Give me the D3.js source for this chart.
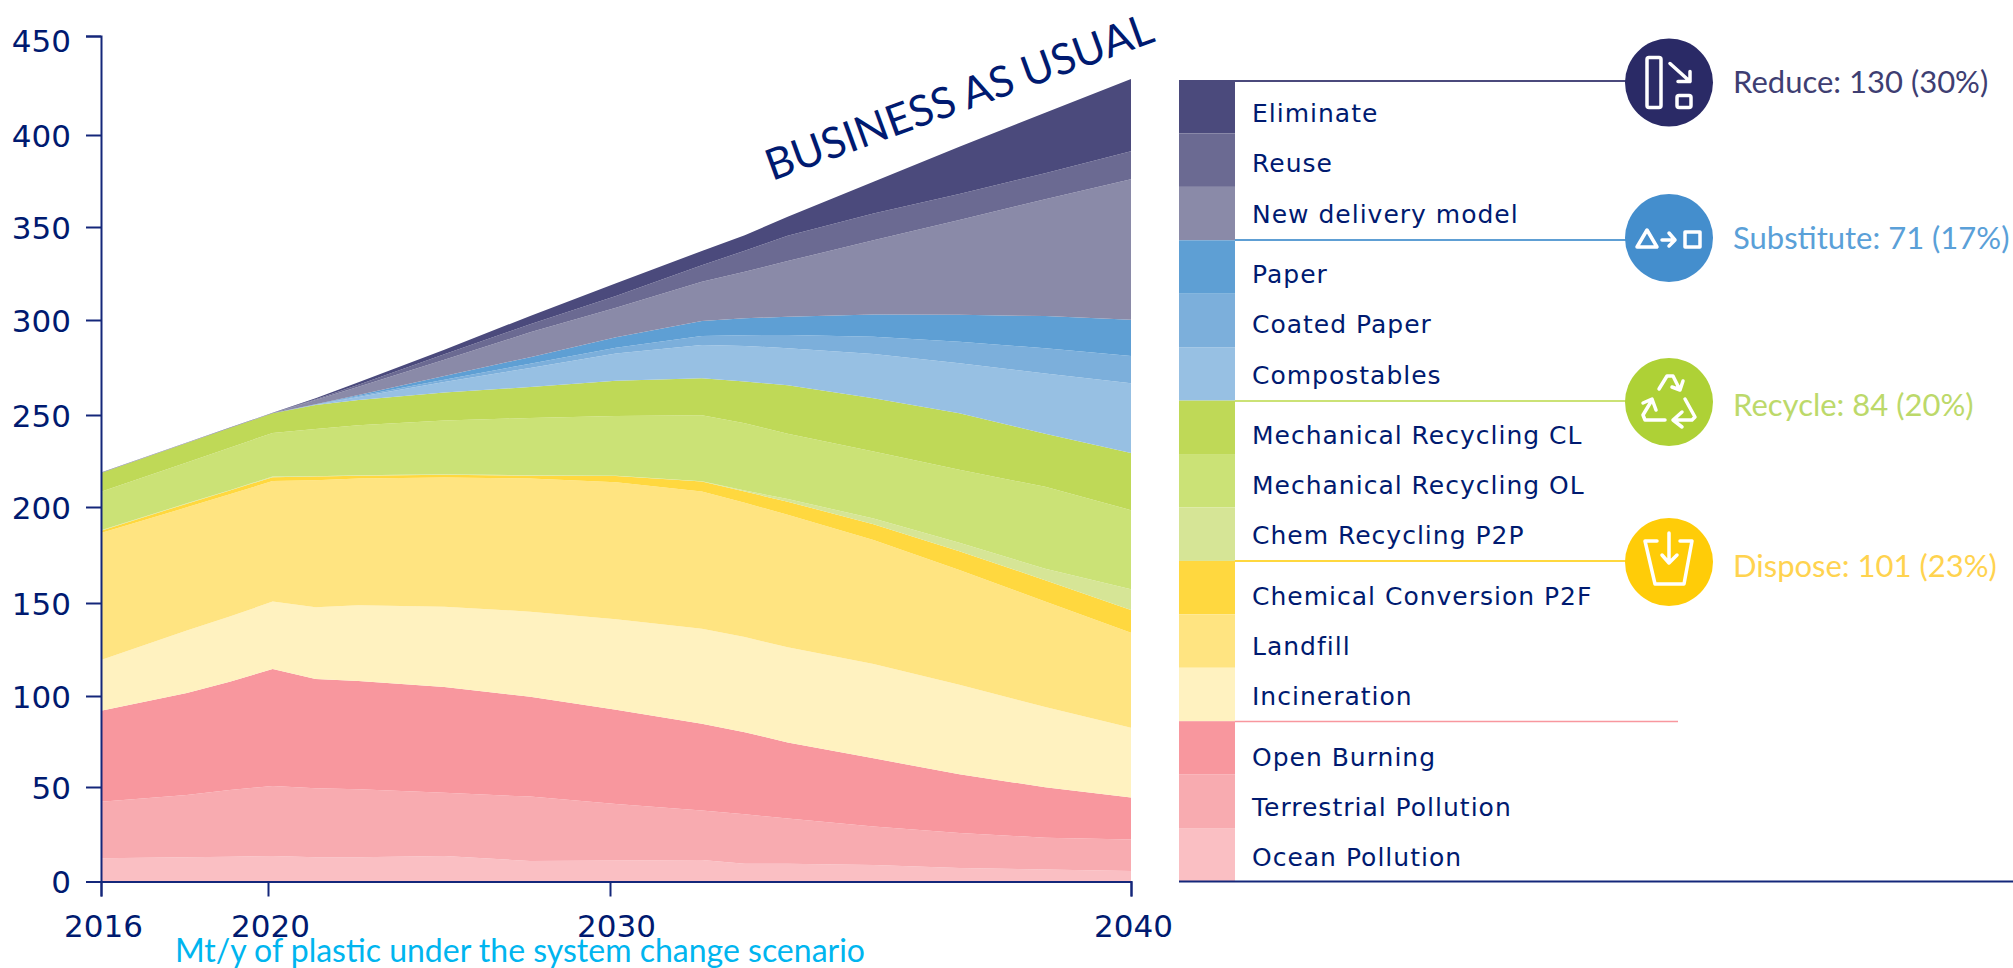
<!DOCTYPE html>
<html>
<head>
<meta charset="utf-8">
<script src="https://cdn.jsdelivr.net/npm/d3@7"></script>
<style>
  html, body { margin: 0; padding: 0; background: #fff; overflow: hidden; }
  .tick text { font-family: "DejaVu Sans", sans-serif; font-size: 31px; fill: #001a70; }
  .legend-label { font-family: "DejaVu Sans", sans-serif; font-size: 25px; letter-spacing: 1px; fill: #001a70; }
  .group-label { font-family: "Lato", sans-serif; font-size: 31px; }
  .icon { fill: none; stroke: #fff; stroke-width: 3.5; stroke-linejoin: round; stroke-linecap: round; }
</style>
</head>
<body>
<script>
var years = [2016, 2018, 2019, 2020, 2021, 2022, 2024, 2026, 2028, 2030, 2031, 2032, 2034, 2036, 2038, 2040];

// Mt/y per layer, bottom of the stack first
var oceanPollution = [12.5, 13, 13.3, 13.6, 13, 13, 13.6, 11, 11.3, 11.5, 9.5, 9.5, 8.8, 7.2, 6.4, 5.6];
var terrestrialPollution = [30.3, 33.4, 35.7, 37.6, 37, 36.5, 33.9, 34.5, 30.2, 26.5, 26.5, 24.3, 20.7, 18.8, 17.1, 16.9];
var openBurning = [48.7, 54.6, 58, 62.7, 58.5, 57.9, 56.8, 53.5, 50.5, 46.5, 44, 40.7, 36.5, 31.5, 27, 22.5];
var incineration = [27.2, 33.5, 35, 36.1, 38.5, 40.6, 43, 45.6, 48.5, 51, 51, 51, 50.5, 48, 43, 37.4];
var landfill = [68, 66, 65.5, 64.6, 68, 68, 69.2, 71.4, 73.5, 73.5, 72, 71, 66.5, 61.5, 56.5, 50.9];
var chemicalConversion = [1.3, 2, 2, 2.1, 2, 1.5, 1.5, 1.5, 3.3, 5.3, 6, 7, 8.5, 10, 11.5, 12.2];
var chemRecycling = [0.2, 0.2, 0.2, 0.3, 0.2, 0.2, 0.2, 0.2, 0.2, 0.2, 0.5, 1.5, 3, 4.5, 6.1, 11.1];
var mechanicalOL = [20.7, 21.9, 22.8, 23.4, 25.3, 26.8, 28.8, 30.7, 31.9, 35.3, 36.1, 35, 35.9, 39.1, 43.9, 42.4];
var mechanicalCL = [10, 10.4, 10.5, 10.6, 12.9, 13.5, 15, 16.6, 19, 19.9, 22.3, 26, 28.6, 30.4, 28.5, 30.6];
var compostables = [0, 0, 0, 0, 0.1, 1.6, 5.7, 10.2, 14.6, 17.8, 19.1, 19.8, 23.7, 26.7, 32.3, 37.4];
var coatedPaper = [0, 0, 0, 0, 0.1, 0.6, 1.2, 2.3, 3, 4.8, 5.8, 7.1, 9.3, 11.6, 13.5, 14.6];
var paper = [0, 0, 0, 0, 0.2, 0.5, 2, 3.5, 5.6, 8.1, 9, 9.8, 11.9, 14.4, 17.2, 19.4];
var newDelivery = [0.1, 0.1, 0.1, 0, 2.2, 4.5, 8.7, 13.3, 15.9, 21, 25, 29.8, 39.7, 50.8, 62.6, 75.4];
var reuse = [0.1, 0.1, 0.1, 0.1, 0.5, 1, 2.9, 4.3, 6.3, 8.9, 11.2, 13.5, 14.4, 13.9, 14, 15];
var eliminate = [0.1, 0.1, 0.1, 0.1, 0.5, 1.3, 2.5, 4.5, 6.8, 7.6, 8.3, 10.3, 17, 25.4, 32.4, 38.6];

// legend order, top to bottom
var categories = ["Eliminate", "Reuse", "New delivery model", "Paper", "Coated Paper", "Compostables",
  "Mechanical Recycling CL", "Mechanical Recycling OL", "Chem Recycling P2P", "Chemical Conversion P2F",
  "Landfill", "Incineration", "Open Burning", "Terrestrial Pollution", "Ocean Pollution"];
var colors = ["#4b4a7c", "#6b6a92", "#8a8aa8", "#5e9fd4", "#7cafdb", "#97c0e3", "#bfd957", "#cbe276", "#d6e596",
  "#ffd83f", "#ffe481", "#fff2c0", "#f8979e", "#f8abb0", "#fabfc3"];
var seriesValues = [eliminate, reuse, newDelivery, paper, coatedPaper, compostables, mechanicalCL, mechanicalOL,
  chemRecycling, chemicalConversion, landfill, incineration, openBurning, terrestrialPollution, oceanPollution];
var categoryGroup = [0, 0, 0, 1, 1, 1, 2, 2, 2, 3, 3, 3, 4, 4, 4];

var yTicks = [0, 50, 100, 150, 200, 250, 300, 350, 400, 450];
var xTicks = [2016, 2020, 2030, 2040];

var groupLabels = ["Reduce: 130 (30%)", "Substitute: 71 (17%)", "Recycle: 84 (20%)", "Dispose: 101 (23%)"];
var groupColors = ["#2a2a66", "#448ecd", "#aed136", "#ffcc08"];
var groupTextColors = ["#3e3e72", "#5aa0d8", "#bcd96a", "#ffd34f"];
var groupLineColors = ["#4b4a7c", "#5e9fd4", "#cbe276", "#ffd83f"];

var svg = d3.select("body").append("svg")
    .attr("width", 2013)
    .attr("height", 968);

var x = d3.scaleLinear().domain([2016, 2040]).range([101, 1131]);
var y = d3.scaleLinear().domain([0, 450]).range([881.5, 41.8]);
// the ticks in the source are not evenly spaced, so the axes get their own scales
var xAxisScale = d3.scaleLinear().domain(xTicks).range([101, 268, 610, 1131]);
var yAxisScale = d3.scaleLinear().domain(yTicks).range([881.5, 787, 696, 603, 507, 415, 320, 227, 135, 36]);

// stack from the bottom up
var rows = years.map(function(year, i) {
  var row = {year: year};
  categories.forEach(function(c, j) { row[c] = seriesValues[j][i]; });
  return row;
});
var stack = d3.stack().keys(categories.slice().reverse());
var z = d3.scaleOrdinal().domain(categories).range(colors);

var area = d3.area()
    .x(function(d) { return x(d.data.year); })
    .y0(function(d) { return y(d[0]); })
    .y1(function(d) { return y(d[1]); });

svg.append("g").selectAll("path")
    .data(stack(rows))
    .enter().append("path")
    .attr("d", area)
    .attr("fill", function(d) { return z(d.key); });

// axes
var yAxis = svg.append("g")
    .attr("transform", "translate(101,0)")
    .call(d3.axisLeft(yAxisScale).tickValues(yTicks).tickSize(15).tickPadding(15));
yAxis.selectAll("text").attr("dy", function(d) { return d == 450 ? "0.5em" : "0.37em"; });

var xAxis = svg.append("g")
    .attr("transform", "translate(0,881.5)")
    .call(d3.axisBottom(xAxisScale).tickValues(xTicks).tickSize(15).tickPadding(18).tickFormat(d3.format("d")));
xAxis.selectAll("text").attr("dx", function(d) { return d == 2030 ? 6 : 2; });

svg.selectAll(".domain, .tick line").attr("stroke", "#14277a").attr("stroke-width", 2);

svg.append("text")
    .attr("transform", "translate(772,181) rotate(-20)")
    .style("font-family", "Lato, sans-serif")
    .style("font-size", "43px")
    .style("fill", "#001a70")
    .text("BUSINESS AS USUAL");

svg.append("text")
    .attr("x", 175)
    .attr("y", 962)
    .style("font-family", "Lato, sans-serif")
    .style("font-size", "32px")
    .style("fill", "#00b5ef")
    .text("Mt/y of plastic under the system change scenario");

// legend swatches
var legendY = d3.scaleBand().domain(categories).range([80, 881.5]);

svg.append("g").selectAll("rect")
    .data(categories)
    .enter().append("rect")
    .attr("x", 1179)
    .attr("y", function(d) { return legendY(d); })
    .attr("width", 56)
    .attr("height", legendY.bandwidth())
    .attr("fill", function(d) { return z(d); });

svg.append("g").selectAll("text")
    .data(categories)
    .enter().append("text")
    .attr("class", "legend-label")
    .attr("x", 1252)
    .attr("y", function(d, i) { return 122 + 50.3 * i + 10 * categoryGroup[i]; })
    .text(function(d) { return d; });

// group lines, circles and totals
var groupY = [81, 240, 401, 561];
var circleY = [82.5, 238, 402, 562];
var labelY = [93, 249, 416, 577];

groupY.forEach(function(gy, i) {
  svg.append("line")
      .attr("x1", 1235).attr("x2", 1630)
      .attr("y1", gy).attr("y2", gy)
      .attr("stroke", groupLineColors[i])
      .attr("stroke-width", 2);
  svg.append("circle")
      .attr("cx", 1669)
      .attr("cy", circleY[i])
      .attr("r", 44)
      .attr("fill", groupColors[i]);
  svg.append("text")
      .attr("class", "group-label")
      .attr("x", 1733)
      .attr("y", labelY[i])
      .style("fill", groupTextColors[i])
      .text(groupLabels[i]);
});

svg.append("line").attr("x1", 1235).attr("x2", 1678).attr("y1", 721.5).attr("y2", 721.5)
    .attr("stroke", "#f8979e").attr("stroke-width", 1.5);
svg.append("line").attr("x1", 1179).attr("x2", 2013).attr("y1", 881.5).attr("y2", 881.5)
    .attr("stroke", "#14277a").attr("stroke-width", 2);

// icons, drawn around each circle centre
function icon(i) {
  return svg.append("g").attr("class", "icon").attr("transform", "translate(1669," + circleY[i] + ")");
}
var reduceIcon = icon(0);
reduceIcon.append("rect").attr("x", -22).attr("y", -25).attr("width", 14).attr("height", 50).attr("rx", 2);
reduceIcon.append("path").attr("d", "M1,-19 L21,-1 M9,-1 L21,-1 L21,-11");
reduceIcon.append("rect").attr("x", 8).attr("y", 13).attr("width", 14).attr("height", 12).attr("rx", 2);

var substituteIcon = icon(1);
substituteIcon.append("path").attr("d", "M-32,9 L-22,-8 L-12,9 Z");
substituteIcon.append("path").attr("d", "M-7,2 L6,2 M0,-5 L6,2 L0,8");
substituteIcon.append("rect").attr("x", 16).attr("y", -6).attr("width", 15).attr("height", 15);

var recycleIcon = icon(2);
recycleIcon.append("path").attr("d", "M-10,-13 L-2,-26 L4,-26 L11,-12 M14,-21 L11,-12 L3,-15");
recycleIcon.append("path").attr("d", "M-17,-2 L-26,13 L-24,18 L-4,18 M-26,1 L-17,-3 L-13,8");
recycleIcon.append("path").attr("d", "M16,-3 L26,15 L23,18 L4,18 M13,10 L4,18 L13,25");

var disposeIcon = icon(3);
disposeIcon.append("path").attr("d", "M-12,-21 L-24,-21 L-14,22 L15,22 L23,-21 L11,-21");
disposeIcon.append("path").attr("d", "M0,-29 L0,1 M-7,-7 L0,1 L8,-7");
</script>
</body>
</html>
